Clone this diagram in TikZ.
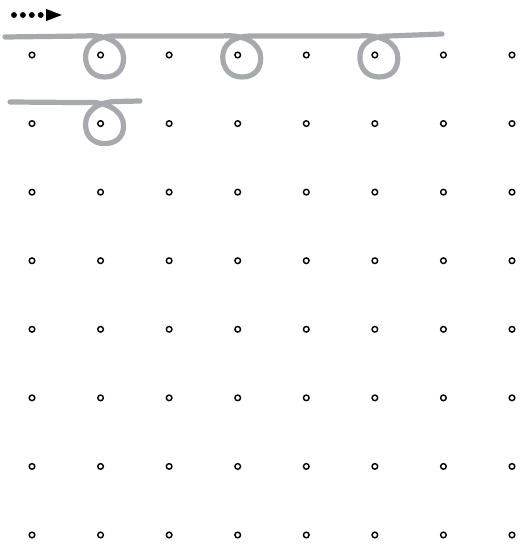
\documentclass[tikz,border=0pt]{standalone}
\usetikzlibrary{arrows.meta,calc}
\definecolor{wiregray}{RGB}{167,169,172}

\begin{document}
\begin{tikzpicture}[
    x=0.025cm, y=-0.025cm,
    dot/.style={circle, draw=black, fill=white, line width=1pt, minimum size=4pt, inner sep=0pt},
    wire/.style={draw=wiregray, line width=3.7pt, line cap=round, line join=round},
    flow/.style={line width=4.2pt, line cap=round, dash pattern=on 0pt off 6.33pt,
                 -{Triangle[length=12pt, width=7.5pt]}},
  ]
  \useasboundingbox (0,0) rectangle (528,545);

  %% ---------------- grid of sites ----------------
  \foreach \i in {0,...,7} {
    \foreach \j in {0,...,7} {
      \coordinate (p-\i-\j) at ({32+68.57*\i},{55+68.57*\j});
    }
  }

  %% ---------------- direction marker ----------------
  \coordinate (tail) at (14,15);
  \coordinate (head) at (63,15);
  \draw[flow] (tail) -- (head);

  %% ---------------- curled strokes ----------------
  \coordinate (rowA-in)  at (5,37);
  \coordinate (rowA-out) at (442,34);
  \coordinate (rowB-in)  at (10,102);
  \coordinate (rowB-out) at (140,101);

  \draw[wire] (rowA-in)
    foreach \c in {p-1-0,p-3-0,p-5-0} {
      -- ($(\c)+(-16,-19)$)
      .. controls ($(\c)+(6,-21)$) and ($(\c)+(23,-12)$) .. ($(\c)+(23,3)$)
      .. controls ($(\c)+(23,16)$) and ($(\c)+(15,22)$) .. ($(\c)+(4,22)$)
      .. controls ($(\c)+(-8,22)$) and ($(\c)+(-15,13)$) .. ($(\c)+(-15,2)$)
      .. controls ($(\c)+(-15,-11)$) and ($(\c)+(-4,-19)$) .. ($(\c)+(14,-19)$)
    } -- (rowA-out);

  \draw[wire] (rowB-in)
    foreach \c in {p-1-1} {
      -- ($(\c)+(-16,-21)$)
      .. controls ($(\c)+(6,-23)$) and ($(\c)+(23,-12)$) .. ($(\c)+(23,2)$)
      .. controls ($(\c)+(23,14)$) and ($(\c)+(15,20)$) .. ($(\c)+(4,20)$)
      .. controls ($(\c)+(-8,20)$) and ($(\c)+(-15,12)$) .. ($(\c)+(-15,1)$)
      .. controls ($(\c)+(-15,-12)$) and ($(\c)+(-4,-21)$) .. ($(\c)+(14,-22)$)
    } -- (rowB-out);

  %% ---------------- sites on top ----------------
  \foreach \i in {0,...,7} {
    \foreach \j in {0,...,7} {
      \node[dot] (d-\i-\j) at (p-\i-\j) {};
    }
  }

\end{tikzpicture}
\end{document}
